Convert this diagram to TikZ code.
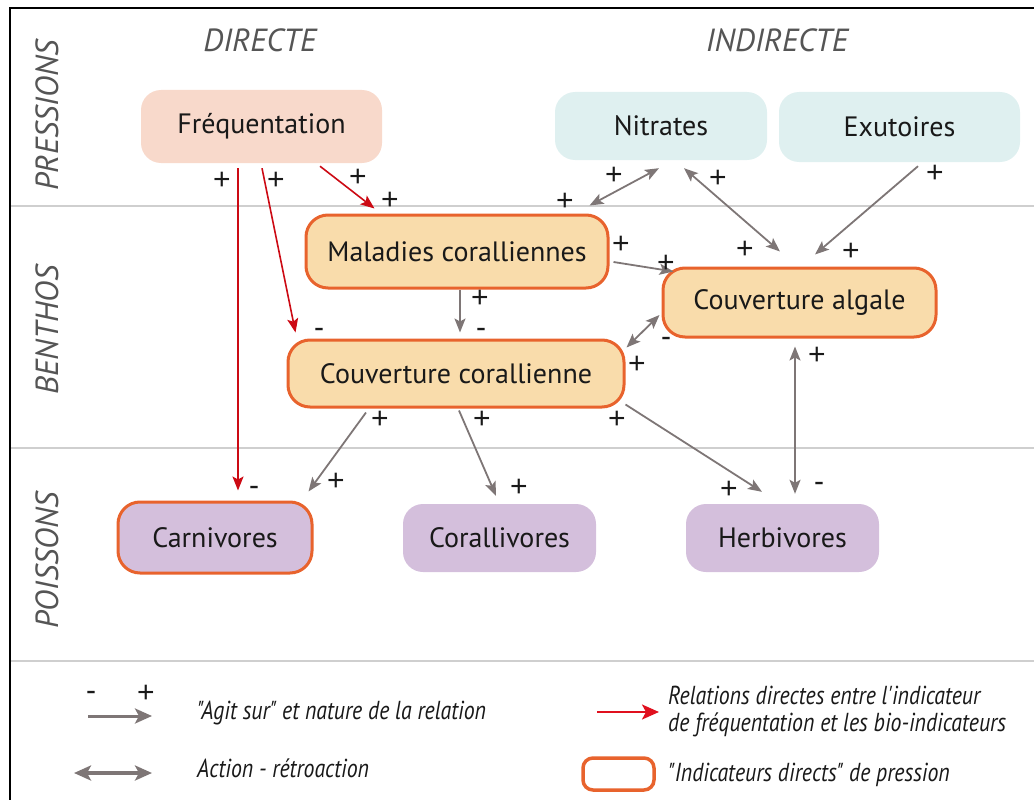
\documentclass[tikz,border=0pt]{standalone}
\usepackage{fontspec}
\setmainfont{PT Sans}
\newfontfamily\condit[FakeStretch=0.84]{PT Sans}
\newfontfamily\signfont{Liberation Sans}
\usetikzlibrary{calc,arrows.meta}
\definecolor{grayarrow}{HTML}{7E7676}
\definecolor{redarrow}{HTML}{CC0A14}
\definecolor{legred}{HTML}{E0101E}
\definecolor{orangeb}{HTML}{E8632D}
\definecolor{peach}{HTML}{F8D9CB}
\definecolor{cyanl}{HTML}{DFF0F0}
\definecolor{benth}{HTML}{F9DCAB}
\definecolor{purp}{HTML}{D4BFDC}
\definecolor{sepgray}{HTML}{CFCFCF}
\definecolor{titlegray}{HTML}{555555}
\tikzset{
  Legtip/.tip={Stealth[length=17pt,width=15pt,inset=4pt]},
  box/.style={rounded corners=20pt, inner sep=0pt, align=center,
    font=\fontsize{28}{32}\selectfont, text=black!90},
  indic/.style={box, draw=orangeb, line width=3pt, rounded corners=22pt},
  garrow/.style={draw=grayarrow, line width=1.8pt, -{Stealth[length=14pt,width=11pt,inset=3pt]}},
  gdouble/.style={draw=grayarrow, line width=1.8pt, {Stealth[length=14pt,width=11pt,inset=3pt]}-{Stealth[length=14pt,width=11pt,inset=3pt]}},
  rarrow/.style={draw=redarrow, line width=1.6pt, -{Stealth[length=14pt,width=11pt,inset=3pt]}},
  sign/.style={font=\signfont\fontsize{30}{32}\selectfont, text=black!90, inner sep=0pt, text height=20pt, text depth=0pt},
  ttl/.style={font=\fontsize{32}{34}\selectfont\itshape, text=titlegray},
  leg/.style={font=\fontsize{26}{27}\selectfont\condit\itshape, text=black!90, anchor=west, align=left, inner sep=0pt},
}
\begin{document}
\begin{tikzpicture}[x=1pt,y=-1pt]
\useasboundingbox (0,0) rectangle (1034,800);
% frame
\draw[line width=2.5pt] (10,800) -- (10,8) -- (1034,8);
% separators
\foreach \yy in {206,448,661} \draw[sepgray, line width=1.5pt] (11,\yy) -- (1034,\yy);
% titles
\node[ttl] (tdir) at (260,40) {DIRECTE};
\node[ttl] (tind) at (777,40) {INDIRECTE};
\node[ttl, rotate=90] (tpre) at (47,115) {PRESSIONS};
\node[ttl, rotate=90] (tben) at (47,330) {BENTHOS};
\node[ttl, rotate=90] (tpoi) at (47,560) {POISSONS};
% nodes
\node[box, fill=peach, minimum width=241pt, minimum height=73pt] (freq) at (261.5,126.5) {Fréquentation};
\node[box, fill=cyanl, minimum width=212pt, minimum height=68pt] (nit) at (661,126) {Nitrates};
\node[box, fill=cyanl, minimum width=241pt, minimum height=70pt] (exu) at (899.5,127) {Exutoires};
\node[indic, fill=benth, minimum width=302pt, minimum height=73pt] (mal) at (457,251.5) {Maladies coralliennes};
\node[indic, fill=benth, minimum width=273pt, minimum height=69pt] (alg) at (799.5,302.5) {Couverture algale};
\node[indic, fill=benth, minimum width=336pt, minimum height=67pt] (cor) at (456,373.5) {Couverture corallienne};
\node[indic, fill=purp, minimum width=194pt, minimum height=71pt] (carn) at (215,537.5) {Carnivores};
\node[box, fill=purp, minimum width=193pt, minimum height=68pt] (coral) at (499.5,538) {Corallivores};
\node[box, fill=purp, minimum width=193pt, minimum height=68pt] (herb) at (782.5,538) {Herbivores};
% gray arrows
\draw[garrow] ($(mal.east)+(4,10.5)$) -- ($(alg.north west)+(12,5)$);
\draw[garrow] ($(mal.south)+(3,0)$) -- ($(cor.north)+(4,-6)$);
\draw[gdouble] ($(cor.north east)+(1,9)$) -- ($(alg.west)+(-2,12.5)$);
\draw[gdouble] ($(mal.north east)+(-20,-8)$) -- ($(nit.south)+(-2,8)$);
\draw[gdouble] ($(alg.north)+(-19.5,-15)$) -- ($(nit.south)+(23,8)$);
\draw[garrow] ($(exu.south)+(18.5,4)$) -- ($(alg.north)+(15.5,-12)$);
\draw[gdouble] ($(alg.south)+(-4.5,8)$) -- ($(herb.north)+(12.5,-10)$);
\draw[garrow] ($(cor.south east)+(0,-4)$) -- ($(herb.north)+(-20.5,-12)$);
\draw[garrow] ($(cor.south)+(3,2)$) -- ($(coral.north)+(-3.5,-8)$);
\draw[garrow] ($(cor.south)+(-90,4)$) -- ($(carn.north east)+(-5,-9)$);
% red arrows
\draw[rarrow] ($(freq.south)+(-23.5,5)$) -- ($(carn.north)+(23,-10)$);
\draw[rarrow] ($(freq.south)+(0.5,5)$) -- ($(cor.north west)+(9,-6)$);
\draw[rarrow] ($(freq.south)+(58.5,3)$) -- ($(mal.north west)+(70,-5)$);
% signs
\node[sign] (s1) at (621,243) {+};
\node[sign] (s2) at (666,262) {+};
\node[sign] (s3) at (480,297) {+};
\node[sign] (s4) at (481,327) {-};
\node[sign] (s5) at (666,336) {-};
\node[sign] (s6) at (637,363) {+};
\node[sign] (s7) at (565,200) {+};
\node[sign] (s8) at (614,174) {+};
\node[sign] (s9) at (718,177) {+};
\node[sign] (s10) at (745,248) {+};
\node[sign] (s11) at (935,172) {+};
\node[sign] (s12) at (851,250) {+};
\node[sign] (s13) at (817,354) {+};
\node[sign] (s14) at (819,481) {-};
\node[sign] (s15) at (617,418) {+};
\node[sign] (s16) at (729,488) {+};
\node[sign] (s17) at (482,418) {+};
\node[sign] (s18) at (519,486) {+};
\node[sign] (s19) at (380,418) {+};
\node[sign] (s20) at (336,480) {+};
\node[sign] (s21) at (222,179) {+};
\node[sign] (s22) at (254,485) {-};
\node[sign] (s23) at (276,179) {+};
\node[sign] (s24) at (319,327) {-};
\node[sign] (s25) at (358,176) {+};
\node[sign] (s26) at (390,199) {+};
% legend
\node[sign] (lm) at (91,690) {-};
\node[sign] (lp) at (146,692) {+};
\coordinate (la1) at (88,716);
\coordinate (la2) at (152,716);
\draw[draw=grayarrow, line width=3pt, -{Legtip}] (la1) -- (la2);
\node[leg] (lt1) at (197,713) {"Agit sur" et nature de la relation};
\coordinate (lb1) at (74,773);
\coordinate (lb2) at (152,773);
\draw[draw=grayarrow, line width=3.5pt, {Legtip}-{Legtip}] (lb1) -- (lb2);
\node[leg] (lt2) at (197,768) {Action - rétroaction};
\coordinate (lc1) at (597,712);
\coordinate (lc2) at (659,712);
\draw[draw=legred, line width=2.5pt, -{Legtip}] (lc1) -- (lc2);
\node[leg] (lt3) at (668,711) {Relations directes entre l'indicateur\\de fréquentation et les bio-indicateurs};
\node[draw=orangeb, line width=3.5pt, rounded corners=10pt, fill=white, minimum width=71pt, minimum height=32pt, inner sep=0pt] (lbox) at (618.5,774) {};
\node[leg] (lt4) at (668,775) {"Indicateurs directs" de pression};
\end{tikzpicture}
\end{document}
